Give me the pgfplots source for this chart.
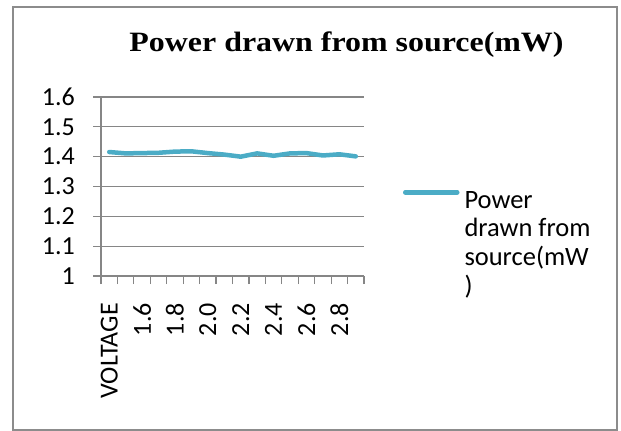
\documentclass[border=0pt]{standalone}
\usepackage{fontspec}
\setmainfont{Carlito}
\newfontfamily\titlefont{Liberation Serif}[FakeStretch=1.14]
\usepackage{pgfplots}
\pgfplotsset{compat=1.18}
\definecolor{linec}{HTML}{4BACC6}
\definecolor{axgray}{HTML}{868686}
\definecolor{framegray}{HTML}{8C8C8C}
\begin{document}
\begin{tikzpicture}
\begin{axis}[
  at={(101bp,155bp)}, anchor=south west,
  scale only axis, width=263bp, height=179bp,
  xmin=-0.5, xmax=15.5, ymin=1, ymax=1.6,
  axis lines=left, axis line style={-, axgray, line width=1.2bp},
  tick align=outside, major tick length=8bp,
  tick style={axgray, line width=1.2bp},
  xtick={-0.5,0.5,...,15.5}, xticklabels={},
  extra x ticks={0,2,4,6,8,10,12,14},
  extra x tick labels={VOLTAGE,1.6,1.8,2.0,2.2,2.4,2.6,2.8},
  extra x tick style={major tick length=0pt, grid=none},
  x tick label style={rotate=90, anchor=east, inner sep=0pt},
  xticklabel shift=27bp,
  ytick={1,1.1,1.2,1.3,1.4,1.5,1.6},
  yticklabels={1,1.1,1.2,1.3,1.4,1.5,1.6},
  y tick label style={anchor=east, inner sep=0pt},
  yticklabel shift=18bp,
  ymajorgrids, grid style={axgray, line width=1.2bp},
  tick label style={font=\fontsize{26bp}{28.7bp}\selectfont},
  legend style={at={(1.1483,0.4905)}, anchor=north west, draw=none, fill=none,
    inner sep=0pt, outer sep=0pt, font=\fontsize{26.5bp}{28.7bp}\selectfont,
    column sep=5bp, nodes={inner sep=0pt}},
  legend cell align=left,
  legend image code/.code={\draw[#1, line cap=round] (2bp,6.6bp) -- (54bp,6.6bp);},
]
\addplot[linec, line width=4.5bp, line join=round, line cap=round] coordinates {
(0,1.4156) (1,1.411) (2,1.412) (3,1.413) (4,1.417) (5,1.418) (6,1.412) (7,1.407)
(8,1.400) (9,1.411) (10,1.403) (11,1.411) (12,1.412) (13,1.404) (14,1.408) (15,1.401)
};
\addlegendentry{\begin{tabular}[t]{@{}l@{}}Power\\drawn from\\source(mW\\)\end{tabular}}
\end{axis}
\node[anchor=base, font=\titlefont\bfseries\fontsize{28bp}{30bp}\selectfont] at (346.5bp,379.3bp) {Power drawn from source(mW)};
\draw[framegray, line width=2bp] (13bp,1bp) rectangle (617bp,424bp);
\pgfresetboundingbox
\path (0,0) rectangle (621bp,431bp);
\end{tikzpicture}
\end{document}
